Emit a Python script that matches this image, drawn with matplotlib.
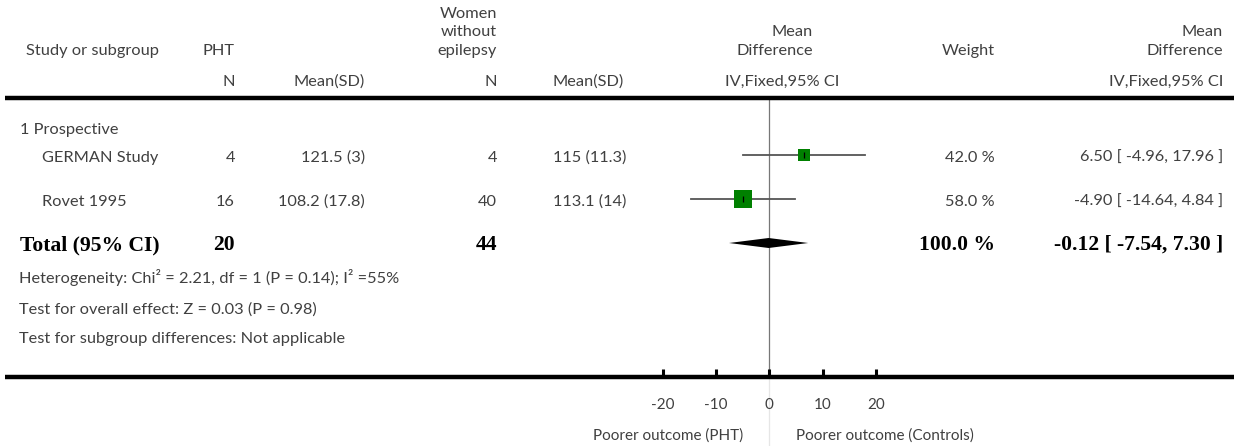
import matplotlib
matplotlib.use("Agg")
import matplotlib.pyplot as plt
from matplotlib.lines import Line2D

plt.rcParams['axes.unicode_minus'] = False

# ---------------- data ----------------
subgroup = "1 Prospective"
studies = ["GERMAN Study", "Rovet 1995"]
pht_n = [4, 16]
pht_mean = [121.5, 108.2]
pht_sd = [3, 17.8]
ctrl_n = [4, 40]
ctrl_mean = [115, 113.1]
ctrl_sd = [11.3, 14]
md = [6.50, -4.90]
ci_lo = [-4.96, -14.64]
ci_hi = [17.96, 4.84]
weights = [42.0, 58.0]
total_pht_n = 20
total_ctrl_n = 44
total_weight = 100.0
total_md = -0.12
total_lo = -7.54
total_hi = 7.30
xticks = [-20, -10, 0, 10, 20]
heterogeneity = "Heterogeneity: Chi² = 2.21, df = 1 (P = 0.14); I² =55%"
overall = "Test for overall effect: Z = 0.03 (P = 0.98)"
subgroup_diff = "Test for subgroup differences: Not applicable"
left_label = "Poorer outcome (PHT)"
right_label = "Poorer outcome (Controls)"

# ---------------- layout ----------------
W, H = 1234, 446
fig = plt.figure(figsize=(W / 100, H / 100), dpi=100)

LIGHT = dict(family=["Lato", "DejaVu Sans"], fontsize=11.8, color="#404040", fontweight="normal")
BOLD = dict(family=["Liberation Serif", "DejaVu Serif"], fontsize=15.6, color="black", fontweight="bold")


def T(px, py, s, ha="left", style=LIGHT, **kw):
    d = dict(style)
    d.update(kw)
    fig.text(px / W, 1 - py / H, s, ha=ha, va="center", **d)


# header
T(26, 51, "Study or subgroup")
T(235, 51, "PHT", ha="right")
T(235, 82, "N", ha="right")
T(365, 82, "Mean(SD)", ha="right")
T(497, 14, "Women", ha="right")
T(497, 32, "without", ha="right")
T(497, 51, "epilepsy", ha="right")
T(497, 82, "N", ha="right")
T(553, 82, "Mean(SD)")
T(813, 32, "Mean", ha="right")
T(813, 51, "Difference", ha="right")
T(839, 82, "IV,Fixed,95% CI", ha="right")
T(995, 51, "Weight", ha="right")
T(1223, 32, "Mean", ha="right")
T(1223, 51, "Difference", ha="right")
T(1223, 82, "IV,Fixed,95% CI", ha="right")

# thick rules
for yy in (98, 377):
    fig.add_artist(Line2D([5 / W, 1.0], [1 - yy / H, 1 - yy / H], color="black", lw=3.2,
                          transform=fig.transFigure, solid_capstyle="butt"))

# rows
T(20, 130, subgroup)
row_y = [158, 202]
mark_y = [155, 199]
for i, name in enumerate(studies):
    y = row_y[i]
    T(42, y, name)
    T(235, y, f"{pht_n[i]}", ha="right")
    T(365, y, f"{pht_mean[i]:g} ({pht_sd[i]:g})", ha="right")
    T(497, y, f"{ctrl_n[i]}", ha="right")
    T(553, y, f"{ctrl_mean[i]:g} ({ctrl_sd[i]:g})")
    T(995, y, f"{weights[i]:.1f} %", ha="right")
    T(1223, y, f"{md[i]:.2f} [ {ci_lo[i]:.2f}, {ci_hi[i]:.2f} ]", ha="right")

ty = 245
T(20, ty, "Total (95% CI)", style=BOLD)
T(235, ty, f"{total_pht_n}", ha="right", style=BOLD)
T(497, ty, f"{total_ctrl_n}", ha="right", style=BOLD)
T(995, ty, f"{total_weight:.1f} %", ha="right", style=BOLD)
T(1223, ty, f"{total_md:.2f} [ {total_lo:.2f}, {total_hi:.2f} ]", ha="right", style=BOLD)

T(19, 278, heterogeneity)
T(19, 310, overall)
T(19, 339, subgroup_diff)

# ---------------- forest axes ----------------
x0px, x1px = 662.5, 876.0
ytop, ybot = 98, 377
ax = fig.add_axes([x0px / W, 1 - ybot / H, (x1px - x0px) / W, (ybot - ytop) / H])
ax.set_xlim(xticks[0], xticks[-1])
ax.set_ylim(ybot, ytop)
ax.patch.set_visible(False)
for s in ax.spines.values():
    s.set_visible(False)
ax.set_yticks([])
ax.set_xticks(xticks)
ax.set_xticklabels([f"{t}" for t in xticks])
ax.tick_params(axis="x", direction="in", length=5.5, width=2.2, color="black", pad=15,
               labelsize=11, labelcolor="#404040")
for lab in ax.get_xticklabels():
    lab.set_family(["Lato", "DejaVu Sans"])

# zero line
ax.plot([0, 0], [ytop, ybot], color="#777777", lw=0.9, zorder=1)
ax.plot([0, 0], [ybot, H], color="#e6e6e6", lw=0.9, zorder=1, clip_on=False)

# studies
for i in range(len(studies)):
    y = mark_y[i]
    ax.plot([ci_lo[i], ci_hi[i]], [y, y], color="#555555", lw=1.3, zorder=2, clip_on=False)
    side_pt = 0.295 * weights[i] * 0.72
    ax.plot([md[i]], [y], marker="s", markersize=side_pt, color="#008000",
            markeredgewidth=0, zorder=3, clip_on=False)
    ax.plot([md[i]], [y], marker="|", markersize=4, color="black", markeredgewidth=0.9,
            zorder=4, clip_on=False)

# diamond
dy = 5
ax.fill([total_lo, total_md, total_hi, total_md], [243, 243 - dy, 243, 243 + dy],
        color="black", zorder=3, clip_on=False, lw=0)

# direction labels
T(743, 436, left_label, ha="right", fontsize=11)
T(796, 436, right_label, fontsize=11)

fig.savefig("out.png", dpi=100)
